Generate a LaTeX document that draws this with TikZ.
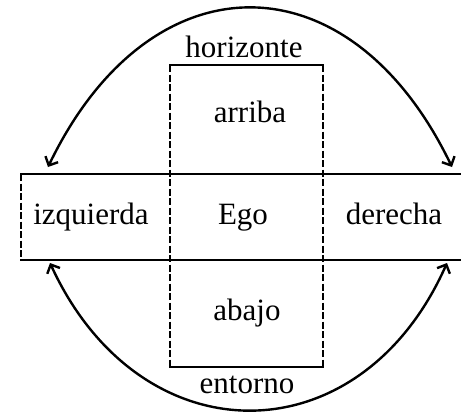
\documentclass[tikz,border=0pt]{standalone}
\usepackage{fontspec}
\setmainfont{Liberation Serif}
\usetikzlibrary{arrows.meta}
\begin{document}
\begin{tikzpicture}[x=1pt,y=-1pt,
  solidline/.style={line width=2.3pt, line cap=rect},
  dashline/.style={line width=2.3pt, dash pattern=on 7pt off 2.5pt},
  arcline/.style={line width=2.4pt, {Straight Barb[length=7pt,width=14pt]}-{Straight Barb[length=7pt,width=14pt]}},
  lab/.style={anchor=base, inner sep=0pt, font=\fontsize{31}{36}\selectfont}]
\useasboundingbox (0,0) rectangle (461,416);
% vertical (dashed-sided) box
\draw[dashline] (170,65) -- (170,367);
\draw[dashline] (323,65) -- (323,367);
\draw[solidline] (170,65) -- (323,65);
\draw[solidline] (170,367) -- (323,367);
% horizontal band
\draw[dashline] (21,174) -- (21,260);
\draw[solidline] (21,174) -- (461,174);
\draw[solidline] (21,260) -- (461,260);
% labels
\node[lab] (hor) at (244,57) {horizonte};
\node[lab] (arr) at (250,122) {arriba};
\node[lab] (izq) at (91,224) {izquierda};
\node[lab] (ego) at (243,224) {Ego};
\node[lab] (der) at (394,224) {derecha};
\node[lab] (aba) at (247,320) {abajo};
\node[lab] (ent) at (247,393) {entorno};
% arcs
\coordinate (tl) at (48,167);
\coordinate (tr) at (452,167);
\coordinate (bl) at (50,263);
\coordinate (br) at (447,263);
\draw[arcline] (tl) .. controls (150,-45) and (350,-45) .. (tr);
\draw[arcline] (bl) .. controls (140,459) and (360,459) .. (br);
\end{tikzpicture}
\end{document}
